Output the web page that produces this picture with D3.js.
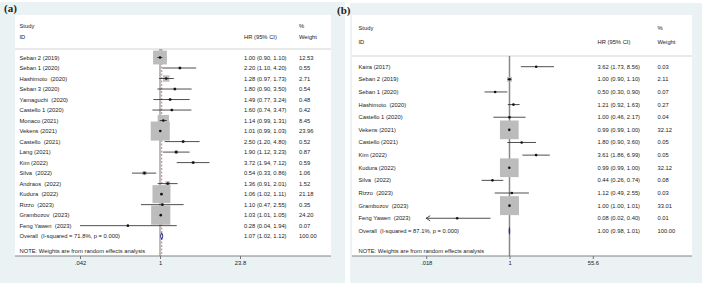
<!DOCTYPE html>
<html>
<head>
<meta charset="utf-8">
<script src="https://cdn.jsdelivr.net/npm/d3@7"></script>
<style>
  body { margin: 0; background: #fff; }
  svg text { font-family: "Liberation Sans", Arial, sans-serif; fill: #222; white-space: pre; }
</style>
</head>
<body>
<svg id="chart" width="704" height="286"></svg>
<script>
// Panel (a)
const studiesA = ['Seban 2 (2019)', 'Seban 1 (2020)', 'Hashimoto  (2020)', 'Seban 3 (2020)',
  'Yamaguchi  (2020)', 'Castello 1 (2020)', 'Monaco (2021)', 'Vekens (2021)', 'Castello  (2021)',
  'Lang (2021)', 'Kim (2022)', 'Silva  (2022)', 'Andraos  (2022)', 'Kudura  (2022)',
  'Rizzo  (2023)', 'Grambozov  (2023)', 'Feng Yawen  (2023)'];
const hrA = [1.00, 2.20, 1.28, 1.80, 1.49, 1.60, 1.14, 1.01, 2.50, 1.90, 3.72, 0.54, 1.36, 1.06, 1.10, 1.03, 0.28];
const loA = [0.90, 1.10, 0.97, 0.90, 0.77, 0.74, 0.99, 0.99, 1.20, 1.12, 1.94, 0.33, 0.91, 1.02, 0.47, 1.01, 0.042];
const hiA = [1.10, 4.20, 1.73, 3.50, 3.24, 3.47, 1.31, 1.03, 4.80, 3.23, 7.12, 0.86, 2.01, 1.11, 2.55, 1.05, 1.94];
const weightA = [12.53, 0.55, 2.71, 0.54, 0.48, 0.42, 8.45, 23.96, 0.52, 0.87, 0.59, 1.06, 1.52, 21.18, 0.35, 24.20, 0.07];
const overallA = {hr: 1.07, lo: 1.02, hi: 1.12, label: 'Overall  (I-squared = 71.8%, p = 0.000)'};
const ticksA = [1 / 23.8, 1, 23.8];
const tickLabelsA = ['.042', '1', '23.8'];

// Panel (b)
const studiesB = ['Kaira (2017)', 'Seban 2 (2019)', 'Seban 1 (2020)', 'Hashimoto  (2020)',
  'Castello 1 (2020)', 'Vekens (2021)', 'Castello (2021)', 'Kim (2022)', 'Kudura (2022)',
  'Silva  (2022)', 'Rizzo  (2023)', 'Grambozov  (2023)', 'Feng Yawen  (2023)'];
const hrB = [3.62, 1.00, 0.50, 1.21, 1.00, 0.99, 1.80, 3.61, 0.99, 0.44, 1.12, 1.00, 0.08];
const loB = [1.73, 0.90, 0.30, 0.92, 0.46, 0.99, 0.90, 1.86, 0.99, 0.26, 0.49, 1.00, 0.017];
const hiB = [8.56, 1.10, 0.90, 1.63, 2.17, 1.00, 3.60, 6.99, 1.00, 0.74, 2.55, 1.01, 0.40];
const weightB = [0.03, 2.11, 0.07, 0.27, 0.04, 32.12, 0.05, 0.05, 32.12, 0.08, 0.03, 33.01, 0.01];
const overallB = {hr: 1.00, lo: 0.98, hi: 1.01, label: 'Overall  (I-squared = 87.1%, p = 0.000)'};
const ticksB = [1 / 55.6, 1, 55.6];
const tickLabelsB = ['.018', '1', '55.6'];

const noteText = 'NOTE: Weights are from random effects analysis';

let svg = d3.select('#chart');

// Draws one Stata-style forest plot panel.
function ForestPanel(opts) {
  let g = svg.append('g');
  let fs = opts.fontSize;

  // outer graph region and white plot region
  g.append('rect')
  .attr('x', opts.bg[0]).attr('y', opts.bg[1])
  .attr('width', opts.bg[2] - opts.bg[0]).attr('height', opts.bg[3] - opts.bg[1])
  .attr('fill', '#eaf2f3');
  g.append('rect')
  .attr('x', opts.plot[0]).attr('y', opts.plot[1])
  .attr('width', opts.plot[2] - opts.plot[0]).attr('height', opts.axisY - opts.plot[1])
  .attr('fill', '#fff');

  // headers
  let header = [
    ['Study', opts.nameX, opts.headY1], ['ID', opts.nameX, opts.headY2],
    ['HR (95% CI)', opts.hrX, opts.headY2],
    ['%', opts.wX, opts.headY1], ['Weight', opts.wX, opts.headY2]
  ];
  g.selectAll('text.head').data(header).enter().append('text')
  .attr('class', 'head')
  .attr('x', d => d[1]).attr('y', d => d[2])
  .attr('dominant-baseline', 'central')
  .attr('font-size', fs)
  .text(d => d[0]);

  g.append('line')
  .attr('x1', opts.plot[0]).attr('x2', opts.plot[2])
  .attr('y1', opts.sepY).attr('y2', opts.sepY)
  .attr('stroke', '#c8c8c8').attr('stroke-width', 0.8);

  let x = d3.scaleLog()
  .domain([opts.ticks[0], opts.ticks[opts.ticks.length - 1]])
  .range(opts.xRange);
  let y = d3.scaleLinear()
  .domain([0, 1])
  .range([opts.rowY0, opts.rowY0 + opts.rowStep]);

  let rows = opts.studies.map((s, i) => ({
    name: s, hr: opts.hr[i], lo: opts.lo[i], hi: opts.hi[i], w: opts.weight[i], i: i
  }));

  // overall effect (dashed) and null line
  g.append('line')
  .attr('x1', x(opts.overall.hr)).attr('x2', x(opts.overall.hr))
  .attr('y1', opts.sepY).attr('y2', opts.axisY)
  .attr('stroke', '#d0504a').attr('stroke-width', 0.8)
  .attr('stroke-dasharray', '2,1.5');
  g.append('line')
  .attr('x1', x(1)).attr('x2', x(1))
  .attr('y1', opts.sepY).attr('y2', opts.axisY)
  .attr('stroke', opts.nullColor).attr('stroke-width', opts.nullWidth);

  // weight boxes
  g.selectAll('rect.box').data(rows).enter().append('rect')
  .attr('class', 'box')
  .attr('x', d => x(d.hr) - opts.boxK * Math.sqrt(d.w) / 2)
  .attr('y', d => y(d.i) - opts.boxK * Math.sqrt(d.w) / 2)
  .attr('width', d => opts.boxK * Math.sqrt(d.w))
  .attr('height', d => opts.boxK * Math.sqrt(d.w))
  .attr('fill', '#bcbcbc');

  // confidence intervals, clipped to the axis range with an arrow
  let xMin = x.domain()[0];
  g.selectAll('line.ci').data(rows).enter().append('line')
  .attr('class', 'ci')
  .attr('x1', d => x(Math.max(d.lo, xMin))).attr('x2', d => x(d.hi))
  .attr('y1', d => y(d.i)).attr('y2', d => y(d.i))
  .attr('stroke', '#222').attr('stroke-width', 0.8);
  g.selectAll('path.arrow').data(rows.filter(d => d.lo < xMin * 0.98)).enter().append('path')
  .attr('class', 'arrow')
  .attr('d', d => {
    let ax = x(xMin), ay = y(d.i);
    return `M${ax + 4},${ay - 2.6}L${ax},${ay}L${ax + 4},${ay + 2.6}`;
  })
  .attr('fill', 'none').attr('stroke', '#222').attr('stroke-width', 0.8);

  g.selectAll('circle.pt').data(rows).enter().append('circle')
  .attr('class', 'pt')
  .attr('cx', d => x(d.hr)).attr('cy', d => y(d.i))
  .attr('r', 1.3).attr('fill', '#111');

  // text columns
  let f2 = d3.format('.2f');
  g.selectAll('text.name').data(rows).enter().append('text')
  .attr('class', 'name')
  .attr('x', opts.nameX).attr('y', d => y(d.i))
  .attr('dominant-baseline', 'central').attr('font-size', fs)
  .text(d => d.name);
  g.selectAll('text.hr').data(rows).enter().append('text')
  .attr('class', 'hr')
  .attr('x', opts.hrX).attr('y', d => y(d.i))
  .attr('dominant-baseline', 'central').attr('font-size', fs)
  .text(d => `${f2(d.hr)} (${f2(d.lo)}, ${f2(d.hi)})`);
  g.selectAll('text.w').data(rows).enter().append('text')
  .attr('class', 'w')
  .attr('x', opts.wX).attr('y', d => y(d.i))
  .attr('dominant-baseline', 'central').attr('font-size', fs)
  .text(d => f2(d.w));

  // overall diamond
  let oy = y(rows.length);
  let o = opts.overall;
  g.append('path')
  .attr('d', `M${x(o.lo)},${oy}L${x(o.hr)},${oy - 3.3}L${x(o.hi)},${oy}L${x(o.hr)},${oy + 3.3}Z`)
  .attr('fill', '#fff').attr('stroke', '#2a2a9a').attr('stroke-width', 1);
  g.append('text')
  .attr('x', opts.nameX).attr('y', oy)
  .attr('dominant-baseline', 'central').attr('font-size', fs)
  .text(o.label);
  g.append('text')
  .attr('x', opts.hrX).attr('y', oy)
  .attr('dominant-baseline', 'central').attr('font-size', fs)
  .text(`${f2(o.hr)} (${f2(o.lo)}, ${f2(o.hi)})`);
  g.append('text')
  .attr('x', opts.wX).attr('y', oy)
  .attr('dominant-baseline', 'central').attr('font-size', fs)
  .text('100.00');

  g.append('text')
  .attr('x', opts.nameX).attr('y', opts.noteY)
  .attr('dominant-baseline', 'central').attr('font-size', fs)
  .text(noteText);

  // x axis
  let axis = g.append('g')
  .attr('transform', `translate(0,${opts.axisY})`)
  .call(d3.axisBottom(x)
    .tickValues(opts.ticks)
    .tickFormat((d, i) => opts.tickLabels[i])
    .tickSize(3)
    .tickPadding(2));
  axis.select('.domain').remove();
  axis.selectAll('.tick line').attr('stroke', '#555').attr('stroke-width', 0.8);
  axis.selectAll('.tick text').attr('font-size', fs).attr('fill', '#222');
  g.append('line')
  .attr('x1', opts.plot[0]).attr('x2', opts.plot[2])
  .attr('y1', opts.axisY).attr('y2', opts.axisY)
  .attr('stroke', '#777').attr('stroke-width', 0.9);

  // panel label
  svg.append('text')
  .attr('x', opts.labelPos[0]).attr('y', opts.labelPos[1])
  .attr('font-weight', 'bold').attr('font-size', 11)
  .style('font-family', '"Liberation Serif", "Times New Roman", serif')
  .text(opts.label);
}

ForestPanel({
  label: '(a)', labelPos: [4, 12],
  bg: [0, 2, 345, 283], plot: [15, 15, 331], axisY: 256,
  studies: studiesA, hr: hrA, lo: loA, hi: hiA, weight: weightA, overall: overallA,
  ticks: ticksA, tickLabels: tickLabelsA, xRange: [80, 240],
  nameX: 19.5, hrX: 244, wX: 299, headY1: 25.5, headY2: 36.5, sepY: 49,
  rowY0: 57.5, rowStep: 10.51, noteY: 251, fontSize: 5.8, boxK: 3.9,
  nullColor: '#555', nullWidth: 0.8
});

ForestPanel({
  label: '(b)', labelPos: [337, 14],
  bg: [350, 3, 702, 283], plot: [352, 15, 692], axisY: 256,
  studies: studiesB, hr: hrB, lo: loB, hi: hiB, weight: weightB, overall: overallB,
  ticks: ticksB, tickLabels: tickLabelsB, xRange: [426.2, 592.8],
  nameX: 358.5, hrX: 597.5, wX: 657.5, headY1: 27.5, headY2: 42, sepY: 56,
  rowY0: 66.7, rowStep: 12.63, noteY: 250.5, fontSize: 5.8, boxK: 3.3,
  nullColor: '#888', nullWidth: 1.5
});
</script>
</body>
</html>
